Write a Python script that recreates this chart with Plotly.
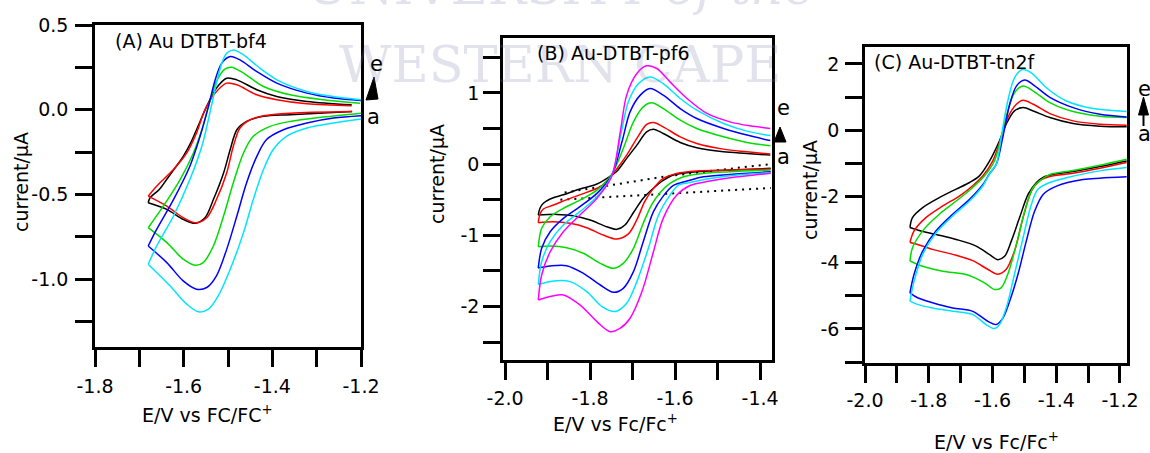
import plotly.graph_objects as go

W, H = 1150, 453

# Cyclic voltammograms: each loop is listed from the positive end of the
# return (cathodic) sweep, through the switching potential, back along the
# anodic sweep.  E in V vs Fc/Fc+, I in microamps.

# ---------------- (A) Au DTBT-bf4 ----------------
A_BLACK_E = [-1.22, -1.36, -1.42, -1.458, -1.48, -1.495, -1.51, -1.533, -1.552, -1.574, -1.601, -1.638, -1.68,
             -1.676, -1.655, -1.638, -1.62, -1.601, -1.585, -1.571, -1.548, -1.526, -1.503, -1.48, -1.435, -1.39, -1.322, -1.221]
A_BLACK_I = [-0.01, -0.029, -0.039, -0.069, -0.118, -0.235, -0.373, -0.53, -0.637, -0.67, -0.647, -0.588, -0.549,
             -0.52, -0.47, -0.41, -0.345, -0.275, -0.2, -0.118, 0.02, 0.128, 0.186, 0.176, 0.118, 0.078, 0.049, 0.029]

A_RED_E = [-1.22, -1.36, -1.42, -1.45, -1.473, -1.488, -1.503, -1.526, -1.548, -1.574, -1.601, -1.638, -1.68,
           -1.661, -1.623, -1.593, -1.571, -1.552, -1.529, -1.503, -1.48, -1.435, -1.39, -1.322, -1.221]
A_RED_I = [-0.01, -0.02, -0.035, -0.059, -0.108, -0.216, -0.373, -0.53, -0.637, -0.667, -0.637, -0.569, -0.51,
           -0.451, -0.353, -0.255, -0.137, 0.0, 0.098, 0.157, 0.147, 0.088, 0.059, 0.035, 0.024]

A_GREEN_E = [-1.2, -1.285, -1.36, -1.405, -1.443, -1.465, -1.488, -1.51, -1.533, -1.556, -1.574, -1.601, -1.638, -1.68,
             -1.646, -1.608, -1.578, -1.559, -1.544, -1.526, -1.507, -1.492, -1.465, -1.42, -1.36, -1.285, -1.202]
A_GREEN_I = [-0.02, -0.043, -0.069, -0.098, -0.157, -0.255, -0.431, -0.627, -0.804, -0.902, -0.918, -0.882, -0.784, -0.696,
             -0.569, -0.412, -0.255, -0.118, 0.02, 0.167, 0.239, 0.251, 0.216, 0.137, 0.088, 0.059, 0.039]

A_BLUE_E = [-1.2, -1.262, -1.322, -1.375, -1.413, -1.435, -1.458, -1.48, -1.503, -1.526, -1.548, -1.571, -1.601, -1.638, -1.68,
            -1.661, -1.623, -1.586, -1.563, -1.544, -1.529, -1.514, -1.495, -1.473, -1.435, -1.39, -1.322, -1.262, -1.2]
A_BLUE_I = [-0.035, -0.049, -0.078, -0.118, -0.176, -0.275, -0.431, -0.627, -0.824, -0.98, -1.049, -1.059, -1.01, -0.902, -0.804,
            -0.706, -0.53, -0.333, -0.157, 0.02, 0.176, 0.275, 0.314, 0.294, 0.225, 0.157, 0.098, 0.069, 0.055]

A_CYAN_E = [-1.2, -1.262, -1.322, -1.368, -1.398, -1.42, -1.443, -1.465, -1.495, -1.522, -1.544, -1.567, -1.593, -1.631, -1.68,
            -1.661, -1.623, -1.586, -1.559, -1.541, -1.526, -1.514, -1.503, -1.488, -1.465, -1.428, -1.383, -1.322, -1.262, -1.2]
A_CYAN_I = [-0.055, -0.078, -0.108, -0.157, -0.235, -0.353, -0.53, -0.725, -0.941, -1.098, -1.176, -1.192, -1.147, -1.039, -0.912,
            -0.804, -0.627, -0.412, -0.216, -0.02, 0.157, 0.275, 0.333, 0.353, 0.324, 0.245, 0.167, 0.108, 0.078, 0.059]

# ---------------- (B) Au-DTBT-pf6 ----------------
B_BLACK_E = [-1.375, -1.471, -1.549, -1.604, -1.628, -1.651, -1.675, -1.698, -1.718, -1.737, -1.761, -1.8, -1.839, -1.878, -1.922,
             -1.918, -1.91, -1.894, -1.863, -1.824, -1.784, -1.755, -1.737, -1.714, -1.69, -1.667, -1.651, -1.628, -1.588, -1.549, -1.486, -1.431, -1.376]
B_BLACK_I = [-0.06, -0.084, -0.108, -0.154, -0.23, -0.34, -0.48, -0.68, -0.855, -0.916, -0.879, -0.785, -0.725, -0.706, -0.715,
             -0.62, -0.55, -0.49, -0.43, -0.35, -0.28, -0.18, -0.10, 0.08, 0.266, 0.453, 0.49, 0.43, 0.304, 0.229, 0.173, 0.15, 0.126]

B_RED_E = [-1.375, -1.471, -1.549, -1.596, -1.628, -1.651, -1.671, -1.69, -1.71, -1.737, -1.769, -1.808, -1.847, -1.886, -1.922,
           -1.918, -1.91, -1.886, -1.847, -1.808, -1.776, -1.755, -1.74, -1.714, -1.69, -1.667, -1.651, -1.628, -1.588, -1.549, -1.486, -1.431, -1.376]
B_RED_I = [-0.07, -0.084, -0.098, -0.131, -0.2, -0.341, -0.52, -0.78, -0.98, -1.052, -0.996, -0.893, -0.832, -0.809, -0.823,
           -0.70, -0.63, -0.575, -0.481, -0.397, -0.318, -0.2, -0.09, 0.126, 0.36, 0.556, 0.584, 0.523, 0.383, 0.29, 0.21, 0.173, 0.14]

B_GREEN_E = [-1.375, -1.471, -1.533, -1.58, -1.612, -1.635, -1.655, -1.675, -1.698, -1.722, -1.745, -1.776, -1.816, -1.855, -1.894, -1.922,
             -1.914, -1.894, -1.863, -1.824, -1.784, -1.749, -1.722, -1.698, -1.675, -1.655, -1.628, -1.588, -1.549, -1.486, -1.431, -1.376]
B_GREEN_I = [-0.084, -0.108, -0.131, -0.178, -0.271, -0.40, -0.57, -0.83, -1.182, -1.393, -1.463, -1.393, -1.252, -1.174, -1.15, -1.16,
             -0.90, -0.739, -0.621, -0.505, -0.365, -0.14, 0.22, 0.593, 0.804, 0.86, 0.78, 0.617, 0.5, 0.383, 0.304, 0.257]

B_BLUE_E = [-1.375, -1.471, -1.533, -1.572, -1.604, -1.628, -1.651, -1.675, -1.698, -1.722, -1.745, -1.776, -1.816, -1.855, -1.894, -1.922,
            -1.914, -1.894, -1.863, -1.824, -1.784, -1.749, -1.725, -1.706, -1.682, -1.659, -1.628, -1.588, -1.549, -1.486, -1.431, -1.376]
B_BLUE_I = [-0.107, -0.145, -0.178, -0.238, -0.30, -0.45, -0.668, -1.09, -1.51, -1.744, -1.8, -1.697, -1.533, -1.426, -1.43, -1.46,
            -1.18, -0.95, -0.762, -0.598, -0.411, -0.154, 0.313, 0.733, 0.968, 1.061, 0.968, 0.78, 0.64, 0.5, 0.407, 0.33]

B_CYAN_E = [-1.375, -1.471, -1.525, -1.565, -1.592, -1.612, -1.639, -1.663, -1.69, -1.714, -1.741, -1.772, -1.808, -1.847, -1.886, -1.922,
            -1.914, -1.894, -1.863, -1.824, -1.784, -1.749, -1.728, -1.71, -1.686, -1.659, -1.628, -1.588, -1.549, -1.486, -1.431, -1.376]
B_CYAN_I = [-0.12, -0.164, -0.21, -0.26, -0.294, -0.435, -0.715, -1.182, -1.65, -1.954, -2.07, -2.0, -1.79, -1.65, -1.64, -1.69,
            -1.37, -1.09, -0.855, -0.668, -0.458, -0.16, 0.407, 0.874, 1.13, 1.224, 1.13, 0.921, 0.757, 0.57, 0.463, 0.40]

B_MAGENTA_E = [-1.375, -1.471, -1.518, -1.565, -1.596, -1.628, -1.651, -1.678, -1.706, -1.729, -1.753, -1.784, -1.824, -1.863, -1.894, -1.922,
               -1.914, -1.894, -1.863, -1.824, -1.784, -1.749, -1.729, -1.714, -1.69, -1.667, -1.643, -1.612, -1.572, -1.525, -1.471, -1.424, -1.376]
B_MAGENTA_I = [-0.13, -0.192, -0.238, -0.30, -0.435, -0.762, -1.23, -1.79, -2.164, -2.304, -2.352, -2.211, -1.977, -1.837, -1.86, -1.907,
               -1.557, -1.23, -0.95, -0.715, -0.481, -0.17, 0.453, 0.968, 1.272, 1.379, 1.342, 1.154, 0.921, 0.711, 0.593, 0.537, 0.50]

# background (blank electrolyte) sweeps, dotted
B_BLANK_UP_E = [-1.86, -1.737, -1.628, -1.5, -1.375]
B_BLANK_UP_I = [-0.40, -0.285, -0.178, -0.085, 0.0]
B_BLANK_DN_E = [-1.87, -1.62, -1.375]
B_BLANK_DN_I = [-0.50, -0.42, -0.335]

# ---------------- (C) Au-DTBT-tn2f ----------------
C_BLACK_E = [-1.179, -1.263, -1.347, -1.41, -1.44, -1.462, -1.488, -1.515, -1.541, -1.562, -1.583, -1.609, -1.651, -1.714, -1.777, -1.83, -1.859,
             -1.851, -1.819, -1.767, -1.714, -1.672, -1.641, -1.609, -1.578, -1.557, -1.531, -1.504, -1.472, -1.42, -1.347, -1.263, -1.179]
C_BLACK_I = [-0.93, -1.1, -1.25, -1.34, -1.42, -1.58, -1.93, -2.64, -3.35, -3.81, -3.91, -3.76, -3.5, -3.3, -3.15, -3.03, -2.94,
             -2.64, -2.34, -2.04, -1.78, -1.58, -1.38, -0.93, -0.32, 0.18, 0.58, 0.68, 0.58, 0.38, 0.2, 0.12, 0.1]

C_RED_E = [-1.179, -1.263, -1.347, -1.42, -1.452, -1.478, -1.504, -1.531, -1.557, -1.583, -1.615, -1.662, -1.725, -1.788, -1.835, -1.859,
           -1.846, -1.809, -1.756, -1.704, -1.662, -1.63, -1.599, -1.573, -1.552, -1.525, -1.504, -1.472, -1.42, -1.347, -1.263, -1.179]
C_RED_I = [-0.98, -1.15, -1.3, -1.4, -1.53, -1.84, -2.64, -3.65, -4.2, -4.35, -4.2, -3.94, -3.75, -3.6, -3.45, -3.39,
           -3.04, -2.64, -2.29, -1.99, -1.68, -1.38, -0.93, -0.23, 0.38, 0.78, 0.9, 0.78, 0.5, 0.28, 0.18, 0.15]

C_GREEN_E = [-1.179, -1.263, -1.347, -1.42, -1.446, -1.473, -1.499, -1.525, -1.552, -1.573, -1.594, -1.625, -1.683, -1.756, -1.819, -1.859,
             -1.851, -1.819, -1.767, -1.714, -1.662, -1.625, -1.594, -1.573, -1.552, -1.531, -1.504, -1.472, -1.42, -1.347, -1.263, -1.179]
C_GREEN_I = [-0.88, -1.06, -1.22, -1.34, -1.49, -1.74, -2.45, -3.45, -4.35, -4.76, -4.81, -4.61, -4.36, -4.26, -4.11, -3.95,
             -3.55, -3.04, -2.54, -2.14, -1.73, -1.38, -0.93, -0.23, 0.58, 1.13, 1.33, 1.18, 0.83, 0.56, 0.42, 0.38]

C_BLUE_E = [-1.179, -1.263, -1.316, -1.399, -1.441, -1.468, -1.494, -1.52, -1.546, -1.567, -1.588, -1.615, -1.662, -1.725, -1.788, -1.835, -1.859,
            -1.846, -1.819, -1.777, -1.725, -1.672, -1.63, -1.611, -1.588, -1.568, -1.546, -1.525, -1.499, -1.472, -1.42, -1.347, -1.263, -1.179]
C_BLUE_I = [-1.41, -1.45, -1.49, -1.69, -1.94, -2.45, -3.35, -4.35, -5.16, -5.67, -5.87, -5.77, -5.47, -5.37, -5.21, -5.06, -4.91,
            -4.35, -3.65, -3.04, -2.54, -2.09, -1.64, -1.34, -1.03, -0.23, 0.78, 1.33, 1.51, 1.37, 0.99, 0.68, 0.48, 0.4]

C_CYAN_E = [-1.179, -1.263, -1.368, -1.42, -1.457, -1.478, -1.504, -1.531, -1.557, -1.578, -1.594, -1.62, -1.662, -1.725, -1.788, -1.835, -1.859,
            -1.846, -1.819, -1.777, -1.725, -1.672, -1.63, -1.611, -1.588, -1.573, -1.552, -1.531, -1.506, -1.478, -1.431, -1.368, -1.284, -1.179]
C_CYAN_I = [-1.13, -1.23, -1.44, -1.58, -1.78, -2.24, -3.25, -4.35, -5.37, -5.87, -5.99, -5.87, -5.57, -5.47, -5.37, -5.26, -5.16,
            -4.56, -3.75, -3.1, -2.59, -2.14, -1.68, -1.34, -1.03, -0.23, 0.88, 1.58, 1.83, 1.73, 1.28, 0.88, 0.65, 0.56]

# axis ticks
A_XTICKS = [-1.8, -1.6, -1.4, -1.2]
A_XTEXT = ["-1.8", "-1.6", "-1.4", "-1.2"]
A_XMINOR = [-1.7, -1.5, -1.3]
A_YTICKS = [0.5, 0.0, -0.5, -1.0]
A_YTEXT = ["0.5", "0.0", "-0.5", "-1.0"]
A_YMINOR = [0.25, -0.25, -0.75, -1.25]

B_XTICKS = [-2.0, -1.8, -1.6, -1.4]
B_XTEXT = ["-2.0", "-1.8", "-1.6", "-1.4"]
B_XMINOR = [-1.9, -1.7, -1.5]
B_YTICKS = [1, 0, -1, -2]
B_YTEXT = ["1", "0", "-1", "-2"]
B_YMINOR = [1.5, 0.5, -0.5, -1.5, -2.5]

C_XTICKS = [-2.0, -1.8, -1.6, -1.4, -1.2]
C_XTEXT = ["-2.0", "-1.8", "-1.6", "-1.4", "-1.2"]
C_XMINOR = [-1.9, -1.7, -1.5, -1.3]
C_YTICKS = [2, 0, -2, -4, -6]
C_YTEXT = ["2", "0", "-2", "-4", "-6"]
C_YMINOR = [1, -1, -3, -5, -7]

FONT = "DejaVu Sans"
BLACK, RED, GREEN, BLUE, CYAN, MAGENTA = "#000000", "#ff0000", "#00dd00", "#0000ff", "#00e5ff", "#ff00ff"


def px(x):
    return x / W


def py(y):
    return 1 - y / H


fig = go.Figure()


def add_cv(E, I, color, sub):
    """Draw one voltammogram as two smooth sweeps meeting at the switching potential."""
    k = E.index(min(E))
    for seg in (slice(0, k + 1), slice(k, None)):
        fig.add_trace(go.Scatter(
            x=E[seg], y=I[seg], mode="lines",
            line=dict(color=color, width=1.5, shape="spline", smoothing=0.9),
            xaxis="x" + sub, yaxis="y" + sub, showlegend=False, hoverinfo="skip"))


for E, I, c in [(A_BLACK_E, A_BLACK_I, BLACK), (A_RED_E, A_RED_I, RED), (A_GREEN_E, A_GREEN_I, GREEN),
                (A_BLUE_E, A_BLUE_I, BLUE), (A_CYAN_E, A_CYAN_I, CYAN)]:
    add_cv(E, I, c, "")

for E, I in [(B_BLANK_UP_E, B_BLANK_UP_I), (B_BLANK_DN_E, B_BLANK_DN_I)]:
    fig.add_trace(go.Scatter(x=E, y=I, mode="lines", line=dict(color="black", width=2, dash="2px,5px"),
                             xaxis="x2", yaxis="y2", showlegend=False, hoverinfo="skip"))

for E, I, c in [(B_BLACK_E, B_BLACK_I, BLACK), (B_RED_E, B_RED_I, RED), (B_GREEN_E, B_GREEN_I, GREEN),
                (B_BLUE_E, B_BLUE_I, BLUE), (B_CYAN_E, B_CYAN_I, CYAN), (B_MAGENTA_E, B_MAGENTA_I, MAGENTA)]:
    add_cv(E, I, c, "2")

for E, I, c in [(C_BLACK_E, C_BLACK_I, BLACK), (C_RED_E, C_RED_I, RED), (C_GREEN_E, C_GREEN_I, GREEN),
                (C_BLUE_E, C_BLUE_I, BLUE), (C_CYAN_E, C_CYAN_I, CYAN)]:
    add_cv(E, I, c, "3")


def axis(domain, rng, tv, tt, minor, standoff, anchor):
    return dict(domain=domain, range=rng, anchor=anchor, automargin=False,
                tickmode="array", tickvals=tv, ticktext=tt,
                ticks="outside", ticklen=17, tickwidth=2.5, tickcolor="black",
                minor=dict(tickmode="array", tickvals=minor, ticks="outside", ticklen=17,
                           tickwidth=2.5, tickcolor="black", showgrid=False),
                showline=True, linewidth=2.5, linecolor="black", mirror=True,
                showgrid=False, zeroline=False, ticklabelstandoff=standoff,
                tickfont=dict(family=FONT, size=19, color="black"))


fig.update_layout(
    template="none",
    width=W, height=H, margin=dict(l=0, r=0, t=0, b=0, autoexpand=False),
    paper_bgcolor="white", plot_bgcolor="rgba(0,0,0,0)", showlegend=False,
    xaxis=axis([px(95), px(361)], [-1.8, -1.2], A_XTICKS, A_XTEXT, A_XMINOR, 3, "y"),
    yaxis=axis([py(347), py(25)], [-1.4, 0.5], A_YTICKS, A_YTEXT, A_YMINOR, 3, "x"),
    xaxis2=axis([px(503), px(772)], [-2.005, -1.372], B_XTICKS, B_XTEXT, B_XMINOR, 2, "y2"),
    yaxis2=axis([py(360), py(38)], [-2.75, 1.77], B_YTICKS, B_YTEXT, B_YMINOR, 0, "x2"),
    xaxis3=axis([px(865), px(1127)], [-2.0, -1.178], C_XTICKS, C_XTEXT, C_XMINOR, 1, "y3"),
    yaxis3=axis([py(363), py(47)], [-7.03, 2.51], C_YTICKS, C_YTEXT, C_YMINOR, 2, "x3"),
)


def note(text, x, y, size=19, xanchor="center", yanchor="middle", angle=0, color="black", family=FONT):
    fig.add_annotation(text=text, x=px(x), y=py(y), xref="paper", yref="paper", showarrow=False,
                       xanchor=xanchor, yanchor=yanchor, textangle=angle,
                       font=dict(family=family, size=size, color=color))


# faint institutional watermark
WM = "rgba(120,125,170,0.22)"
note("UNIVERSITY <i>of the</i>", 560, -14, size=51, color=WM, family="DejaVu Serif")
note("WESTERN CAPE", 560, 64, size=51, color=WM, family="DejaVu Serif")

# panel labels
note("(A) Au DTBT-bf4", 113, 41, xanchor="left")
note("(B) Au-DTBT-pf6", 535, 53, xanchor="left")
note("(C) Au-DTBT-tn2f", 872, 62, xanchor="left")

# axis titles
note("E/V vs FC/FC<sup>+</sup>", 207, 414)
note("E/V vs Fc/Fc<sup>+</sup>", 615, 423)
note("E/V vs Fc/Fc<sup>+</sup>", 996, 441)
note("current/\u03bcA", 21, 182, angle=-90)
note("current/\u03bcA", 437, 174, angle=-90)
note("current/\u03bcA", 810, 190, angle=-90)

# scan-series markers a -> e
note("e", 377, 64, size=21)
note("a", 373, 117, size=21)
note("e", 783, 108, size=21)
note("a", 783, 157, size=21)
note("e", 1144, 89, size=21)
note("a", 1144, 134, size=21)


def tri(pts):
    d = "M " + " L ".join(f"{px(x)},{py(y)}" for x, y in pts) + " Z"
    fig.add_shape(type="path", path=d, xref="paper", yref="paper",
                  fillcolor="black", line=dict(color="black", width=1))


tri([(374, 77), (366, 100), (378, 99)])
tri([(780, 127), (774, 142), (786, 142)])
tri([(1143.5, 97), (1138.5, 115), (1148.5, 115)])
fig.add_shape(type="line", x0=px(1143.5), x1=px(1143.5), y0=py(112), y1=py(126), xref="paper", yref="paper",
              line=dict(color="black", width=2))

fig.write_html("out.html")
